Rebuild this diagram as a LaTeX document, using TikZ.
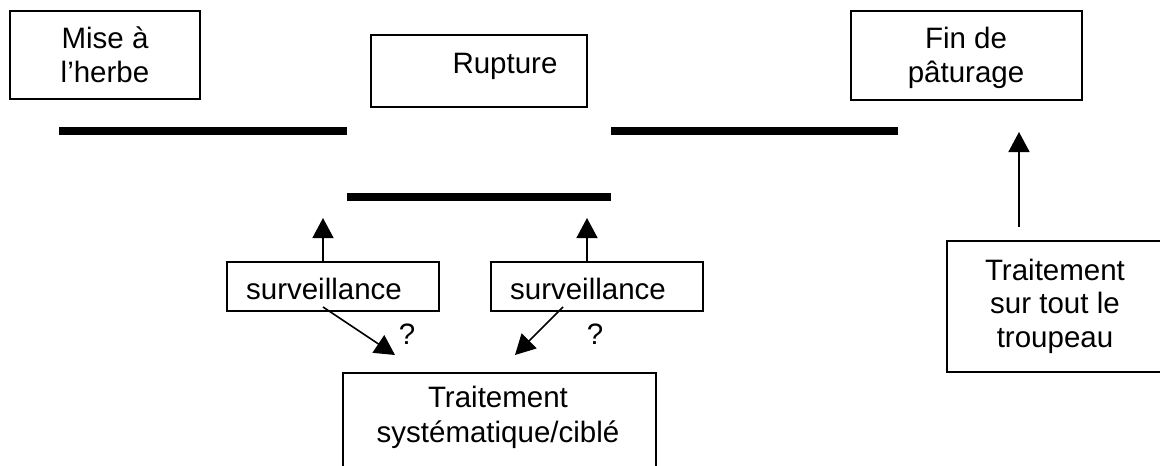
\documentclass[tikz,border=0pt]{standalone}
\usepackage{fontspec}
\setmainfont{Liberation Sans}
\usetikzlibrary{arrows.meta}
\begin{document}
\begin{tikzpicture}[x=1pt,y=-1pt,
  box/.style={draw,line width=1.3pt,rectangle,inner sep=0pt},
  txt/.style={anchor=base,inner sep=0pt,font=\fontsize{29.5}{34}\selectfont},
  bar/.style={line width=8pt},
  arr/.style={line width=1.6pt,-{Triangle[length=20pt,width=21pt]}}]
\useasboundingbox (0,0) rectangle (1160,466);
\clip (0,0) rectangle (1160,466);

% stage boxes along the top
\node[box,minimum width=190pt,minimum height=88pt] (mise) at (105,55) {};
\node[txt] (mise1) at (105,48) {Mise à};
\node[txt] (mise2) at (105,82) {l’herbe};

\node[box,minimum width=216pt,minimum height=72pt] (rupt) at (479,71) {};
\node[txt] (rupt1) at (505,73) {Rupture};

\node[box,minimum width=231pt,minimum height=89pt] (fin) at (966.5,55.5) {};
\node[txt] (fin1) at (966,48) {Fin de};
\node[txt] (fin2) at (966,82) {pâturage};

% grazing periods
\coordinate (b1a) at (59,130.5);  \coordinate (b1b) at (347,130.5);
\coordinate (b2a) at (611,130.5); \coordinate (b2b) at (898,130.5);
\coordinate (b3a) at (347,196.5); \coordinate (b3b) at (611,196.5);
\draw[bar] (b1a) -- (b1b);
\draw[bar] (b2a) -- (b2b);
\draw[bar] (b3a) -- (b3b);

% monitoring boxes
\node[box,minimum width=212pt,minimum height=49pt] (surv1) at (333,286.5) {};
\node[txt] (surv1t) at (324,299) {surveillance};
\node[box,minimum width=212pt,minimum height=49pt] (surv2) at (597,286.5) {};
\node[txt] (surv2t) at (588,299) {surveillance};

% treatment boxes
\node[box,minimum width=313pt,minimum height=127pt] (trsys) at (499.5,436.5) {};
\node[txt] (trsys1) at (498,407) {Traitement};
\node[txt] (trsys2) at (498,442) {systématique/ciblé};

\node[box,minimum width=253pt,minimum height=131pt] (trtout) at (1073.5,306.5) {};
\node[txt] (trtout1) at (1055,280) {Traitement};
\node[txt] (trtout2) at (1055,313) {sur tout le};
\node[txt] (trtout3) at (1055,347) {troupeau};

% arrows
\coordinate (up1) at (323,218);
\coordinate (up2) at (587,218);
\coordinate (up3) at (1019,132);
\coordinate (up3s) at (1019,227);
\draw[arr] (surv1.north -| up1) -- (up1);
\draw[arr] (surv2.north -| up2) -- (up2);
\draw[arr] (up3s) -- (up3);

\coordinate (d1s) at (323,307); \coordinate (d1e) at (395,355);
\coordinate (d2s) at (563,307); \coordinate (d2e) at (515,355);
\draw[arr] (d1s) -- (d1e);
\draw[arr] (d2s) -- (d2e);
\node[txt] (q1) at (407,344) {?};
\node[txt] (q2) at (595,344) {?};
\end{tikzpicture}
\end{document}
